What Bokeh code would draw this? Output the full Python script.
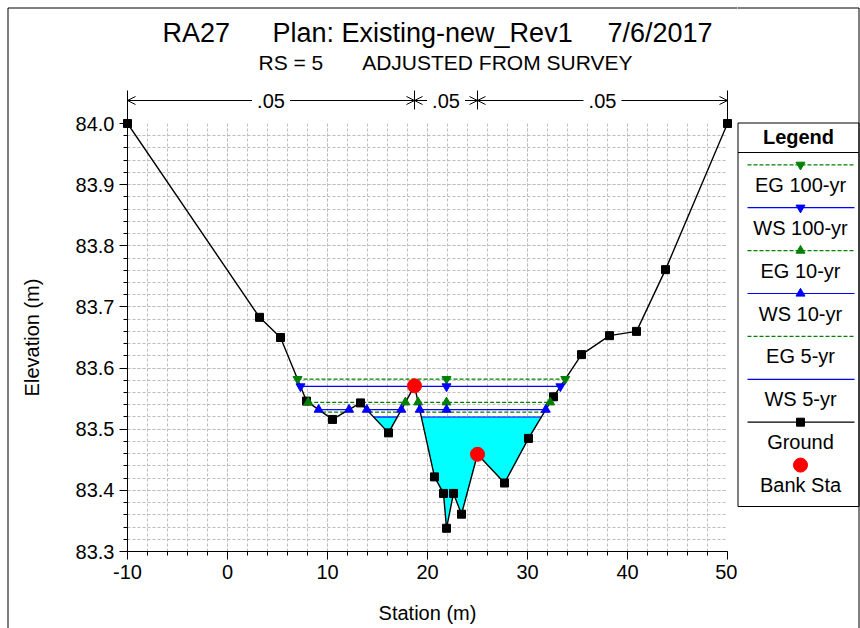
import numpy as np
from bokeh.plotting import figure
from bokeh.layouts import row
from bokeh.models import Range1d, SingleIntervalTicker, PrintfTickFormatter
from bokeh.core.properties import value
from bokeh.embed import file_html
from bokeh.resources import INLINE

FONT = "Liberation Sans"

# ---------------- data ----------------
station = [-10.0, 3.2, 5.3, 7.9, 10.5, 13.3, 16.1, 18.7, 20.7, 21.6, 21.9,
           22.6, 23.4, 25.0, 27.7, 30.1, 32.6, 35.4, 38.2, 40.9, 43.8, 50.0]
elevation = [84.000, 83.683, 83.650, 83.546, 83.516, 83.543, 83.494, 83.571,
             83.422, 83.395, 83.338, 83.395, 83.361, 83.459, 83.412, 83.485,
             83.553, 83.622, 83.653, 83.660, 83.761, 84.000]
bank_station = [18.7, 25.0]
n_stations = [-10.0, 18.7, 25.0, 50.0]
n_values = [0.05, 0.05, 0.05]
profile_names = ["EG 100-yr", "WS 100-yr", "EG 10-yr", "WS 10-yr", "EG 5-yr", "WS 5-yr"]
profile_elev = [83.582, 83.570, 83.544, 83.532, 83.528, 83.520]
title_parts = ["RA27", "Plan: Existing-new_Rev1", "7/6/2017"]
subtitle_parts = ["RS = 5", "ADJUSTED FROM SURVEY"]
x_label = "Station (m)"
y_label = "Elevation (m)"

# ---------------- styles ----------------
GREEN, BLUE = "#008000", "#0000FF"
styles = [
    dict(color=GREEN, dash="4 2", marker="inverted_triangle"),
    dict(color=BLUE, dash="solid", marker="inverted_triangle"),
    dict(color=GREEN, dash="4 2", marker="triangle"),
    dict(color=BLUE, dash="solid", marker="triangle"),
    dict(color=GREEN, dash="4 2", marker=None),
    dict(color=BLUE, dash="solid", marker=None),
]

xs = np.asarray(station, float)
ys = np.asarray(elevation, float)


def wet_segments(level):
    segs, start = [], None
    for i in range(len(xs) - 1):
        x0, y0, x1, y1 = xs[i], ys[i], xs[i + 1], ys[i + 1]
        if y0 >= level and y1 < level:
            start = x0 + (level - y0) / (y1 - y0) * (x1 - x0)
        elif y0 < level and y1 >= level:
            end = x0 + (level - y0) / (y1 - y0) * (x1 - x0)
            segs.append((start, end))
            start = None
    return segs


def with_crossings(level):
    px, py = [], []
    for i in range(len(xs) - 1):
        px.append(xs[i]); py.append(ys[i])
        if (ys[i] - level) * (ys[i + 1] - level) < 0:
            t = (level - ys[i]) / (ys[i + 1] - ys[i])
            px.append(xs[i] + t * (xs[i + 1] - xs[i])); py.append(level)
    px.append(xs[-1]); py.append(ys[-1])
    return np.array(px), np.array(py)


# ---------------- main figure ----------------
W, H = 737, 628
FL, FT, FW, FH = 127, 123, 600, 428
p = figure(width=W, height=H, x_range=Range1d(-10, 50), y_range=Range1d(83.3, 84.0),
           output_backend="svg", toolbar_location=None,
           min_border_left=FL, min_border_right=W - FL - FW,
           min_border_top=FT, min_border_bottom=H - FT - FH)
p.outline_line_color = None
# canvas-pixel coordinate system for titles / annotations
p.extra_x_ranges = {"px": Range1d(FL, FL + FW)}
p.extra_y_ranges = {"py": Range1d(FT + FH, FT)}

p.xaxis.ticker = SingleIntervalTicker(interval=10, num_minor_ticks=5)
p.yaxis.ticker = SingleIntervalTicker(interval=0.1, num_minor_ticks=5)
p.xgrid.ticker = p.xaxis.ticker
p.ygrid.ticker = p.yaxis.ticker
p.xaxis.formatter = PrintfTickFormatter(format="%d")
p.yaxis.formatter = PrintfTickFormatter(format="%.1f")
p.xaxis.axis_label = x_label
p.yaxis.axis_label = y_label
for ax in (p.xaxis, p.yaxis):
    ax.axis_line_color = "black"
    ax.major_tick_line_color = "black"
    ax.minor_tick_line_color = "black"
    ax.major_tick_in = 0
    ax.major_tick_out = 8
    ax.minor_tick_in = 0
    ax.minor_tick_out = 4
    ax.major_label_text_font = FONT
    ax.major_label_text_font_size = "20px"
    ax.major_label_text_color = "black"
    ax.axis_label_text_font = FONT
    ax.axis_label_text_font_size = "20px"
    ax.axis_label_text_font_style = "normal"
    ax.axis_label_text_color = "black"
p.yaxis.axis_label_standoff = 30
p.xaxis.axis_label_standoff = 20
for g in (p.xgrid, p.ygrid):
    g.grid_line_color = "#BDBDBD"
    g.grid_line_dash = "3 2"
    g.minor_grid_line_color = "#BDBDBD"
    g.minor_grid_line_dash = "3 2"

# water fill under first profile (WS 5-yr)
ws_first = profile_elev[profile_names.index("WS 5-yr")]
fx, fy = with_crossings(ws_first)
p.varea(x=fx, y1=fy, y2=np.maximum(fy, ws_first), fill_color="#00FFFF")

# profile lines
thalweg = xs[np.argmin(ys)]
for lvl, st in zip(profile_elev, styles):
    segs = wet_segments(lvl)
    p.multi_line(xs=[[a, b] for a, b in segs], ys=[[lvl, lvl] for _ in segs],
                 line_color=st["color"], line_dash=st["dash"], line_width=1.2)

# ground
p.line(xs, ys, line_color="black", line_width=1.4)
p.scatter(xs, ys, marker="square", size=8, color="black", level="annotation")

# profile markers
for lvl, st in zip(profile_elev, styles):
    if st["marker"] is None:
        continue
    segs = wet_segments(lvl)
    mx = [v for s in segs for v in s] + [thalweg for a, b in segs if a <= thalweg <= b]
    p.scatter(mx, [lvl] * len(mx), marker=st["marker"], size=9, color=st["color"],
              level="annotation")

# bank stations
p.scatter(bank_station, np.interp(bank_station, xs, ys), marker="circle", size=14,
          color="red", level="annotation")

# n values above the plot (station on x, canvas pixels on y)
NY, NTOP, HEAD_X, HEAD_Y, GAP = 100, 90, 0.8, 4, 1.9
n_bot = [FT if s in (n_stations[0], n_stations[-1]) else 109 for s in n_stations]
p.segment(x0=n_stations, x1=n_stations, y0=[NTOP] * len(n_stations), y1=n_bot,
          y_range_name="py", line_color="black", line_width=1, level="annotation")
sx0, sx1, sy0, sy1 = [], [], [], []
for i in range(len(n_values)):
    a, b = n_stations[i], n_stations[i + 1]
    m = (a + b) / 2
    for u, v in ((a, m - GAP), (m + GAP, b)):
        sx0.append(u); sx1.append(v); sy0.append(NY); sy1.append(NY)
    for tip, d in ((a, 1), (b, -1)):
        for s in (1, -1):
            sx0.append(tip); sx1.append(tip + d * HEAD_X); sy0.append(NY); sy1.append(NY + s * HEAD_Y)
p.segment(x0=sx0, x1=sx1, y0=sy0, y1=sy1, y_range_name="py", line_color="black",
          line_width=1, level="annotation")
p.text(x=[(n_stations[i] + n_stations[i + 1]) / 2 for i in range(len(n_values))],
       y=[NY] * len(n_values), text=[f"{nv:.2f}".lstrip("0") for nv in n_values],
       y_range_name="py", text_font=value(FONT), text_font_size=value("20px"),
       text_align="center", text_baseline="middle", level="annotation")

# titles
p.text(x=[162, 272], y=[32] * 2, text=title_parts[:2], x_range_name="px", y_range_name="py",
       text_font=value(FONT), text_font_size=value("27px"), text_baseline="middle",
       text_align="left", level="annotation")
p.text(x=[712], y=[32], text=title_parts[2:], x_range_name="px", y_range_name="py",
       text_font=value(FONT), text_font_size=value("27px"), text_baseline="middle",
       text_align="right", level="annotation")
p.text(x=[258], y=[62], text=subtitle_parts[:1], x_range_name="px", y_range_name="py",
       text_font=value(FONT), text_font_size=value("21px"), text_baseline="middle",
       text_align="left", level="annotation")
p.text(x=[632], y=[62], text=subtitle_parts[1:], x_range_name="px", y_range_name="py",
       text_font=value(FONT), text_font_size=value("21px"), text_baseline="middle",
       text_align="right", level="annotation")

# outer border (left and top)
p.multi_line(xs=[[7.5, 7.5, W]], ys=[[H, 7.5, 7.5]], x_range_name="px", y_range_name="py",
             line_color="black", line_width=1, level="annotation")

# ---------------- legend figure (frame aligned with main frame) ----------------
LW = 860 - W
lg = figure(width=LW, height=H, x_range=Range1d(W, 860), y_range=Range1d(FT + FH, FT),
            output_backend="svg", toolbar_location=None,
            min_border_left=0, min_border_right=0, min_border_top=FT,
            min_border_bottom=H - FT - FH)
lg.axis.visible = False
lg.grid.visible = False
lg.outline_line_color = None
LX0, LX1, LY0, LY1 = 737.5, 858.5, 122.5, 506
LC = 800
lg.quad(left=[LX0], right=[LX1], top=[LY0], bottom=[LY1], fill_color=None, line_color="black",
        level="annotation")
lg.segment(x0=[LX0], x1=[LX1], y0=[152], y1=[152], line_color="black", level="annotation")
lg.text(x=[(LX0 + LX1) / 2], y=[136], text=["Legend"], text_font=value(FONT),
        text_font_size=value("20px"), text_font_style="bold", text_align="center",
        text_baseline="middle", level="annotation")
leg_names = profile_names + ["Ground", "Bank Sta"]
leg_styles = styles + [dict(color="black", dash="solid", marker="square"),
                       dict(color="red", dash=None, marker="circle")]
for i, (nm, st) in enumerate(zip(leg_names, leg_styles)):
    ly = 164.3 + 42.9 * i
    if st["dash"] is not None:
        lg.segment(x0=[747], x1=[854], y0=[ly], y1=[ly], line_color=st["color"],
                   line_dash=st["dash"], line_width=1.2, level="annotation")
    if st["marker"] is not None:
        sz = 14 if st["marker"] == "circle" else (8 if st["marker"] == "square" else 9)
        lg.scatter([LC], [ly], marker=st["marker"], size=sz, color=st["color"],
                   level="annotation")
    lg.text(x=[LC], y=[ly + 20], text=[nm], text_font=value(FONT), text_font_size=value("20px"),
            text_align="center", text_baseline="middle", level="annotation")
# outer border (top and right)
lg.multi_line(xs=[[W, 858.5, 858.5]], ys=[[7.5, 7.5, H]], line_color="black", line_width=1,
              level="annotation")

layout = row(p, lg, spacing=0)
open("out.html", "w").write(file_html(layout, INLINE))
